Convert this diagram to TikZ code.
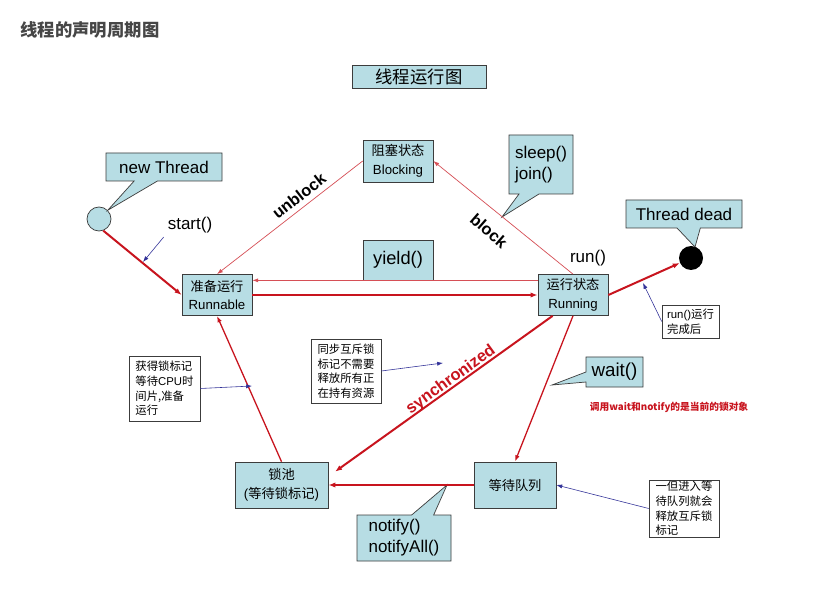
\documentclass[tikz,border=0pt]{standalone}
\usepackage{fontspec}
\setmainfont{Liberation Sans}
\newfontfamily\cjk{Noto Sans CJK SC}
\definecolor{stateblue}{RGB}{183,221,228}
\definecolor{statered}{RGB}{200,20,30}
\definecolor{notenavy}{RGB}{51,51,153}
\definecolor{edgegray}{RGB}{60,60,60}
\definecolor{titlegray}{RGB}{70,70,70}
\usetikzlibrary{arrows.meta,shapes.callouts}

\begin{document}
\begin{tikzpicture}[x=0.3mm, y=-0.3mm,
  statebox/.style={draw=edgegray, fill=stateblue, line width=0.6pt, align=center, inner sep=0pt, font=\fontsize{11.3}{16}\selectfont},
  tipbox/.style={rectangle callout, draw=edgegray, fill=stateblue, line width=0.6pt, align=left, inner sep=0pt, font=\fontsize{14.5}{18}\selectfont},
  notebox/.style={draw=edgegray, fill=white, line width=0.5pt, align=left, inner sep=0pt, font=\cjk\fontsize{9.7}{12.5}\selectfont},
  flow/.style={-{Latex[length=6pt,width=4.5pt]}, statered, line width=1.7pt},
  flowmid/.style={-{Latex[length=5.5pt,width=4pt]}, statered, line width=1.1pt},
  flowthin/.style={-{Latex[length=5pt,width=3.5pt]}, statered!75, line width=0.6pt},
  hint/.style={-{Latex[length=5pt,width=3.5pt]}, notenavy, line width=0.5pt},
  tag/.style={font=\bfseries\fontsize{14}{16}\selectfont}]
\path[use as bounding box, fill=white] (0,0) rectangle (820,600);
% Titles
\node[font=\cjk\bfseries\fontsize{14.8}{17}\selectfont, text=titlegray] (title) at (90,30) {线程的声明周期图};
\node[statebox, minimum width=40.2mm, minimum height=6.9mm, font=\cjk\fontsize{14.8}{17}\selectfont] (chart) at (419,76.5) {线程运行图};
% States
\node[statebox, minimum width=21mm, minimum height=12.6mm] (blocking) at (398,161) {{\cjk 阻塞状态}\\Blocking};
\node[statebox, minimum width=21mm, minimum height=12.3mm] (runnable) at (217,295) {{\cjk 准备运行}\\Runnable};
\node[statebox, minimum width=21mm, minimum height=12.3mm] (running) at (573,295) {{\cjk 运行状态}\\Running};
\node[statebox, minimum width=21mm, minimum height=12mm, font=\fontsize{15.6}{18}\selectfont] (yield) at (398,260) {yield()};
\node[statebox, minimum width=27.9mm, minimum height=13.8mm] (lockpool) at (281.5,485) {{\cjk 锁池}\\({\cjk 等待锁标记})};
\node[statebox, minimum width=24.6mm, minimum height=13.8mm] (waitqueue) at (515,485) {{\cjk 等待队列}};
\node[circle, draw=edgegray, fill=stateblue, line width=0.6pt, minimum size=7.2mm, inner sep=0pt] (born) at (99,219) {};
\node[circle, fill=black, minimum size=7.2mm, inner sep=0pt] (dead) at (691,258) {};
% Callouts
\coordinate (sleeptip) at (502,217);
\coordinate (waittip) at (552,385);
\coordinate (notifytip) at (447,485);
\coordinate (deadtip) at (695,247);
\node[tipbox, minimum width=34.8mm, minimum height=8.4mm, callout absolute pointer={(born.north east)}, callout pointer width=7mm] (newthread) at (164,167) {new Thread};
\node[tipbox, minimum width=19.2mm, minimum height=17.7mm, callout absolute pointer={(sleeptip)}, callout pointer width=6mm] (sleepjoin) at (541,164.5) {sleep()\\join()};
\node[tipbox, minimum width=34.8mm, minimum height=8.4mm, callout absolute pointer={(deadtip)}, callout pointer width=7mm] (deadcall) at (684,214) {Thread dead};
\node[tipbox, minimum width=17.1mm, minimum height=9mm, font=\fontsize{16}{18}\selectfont, callout absolute pointer={(waittip)}, callout pointer width=3mm] (waitcall) at (614.5,372) {wait()};
\node[tipbox, minimum width=28.2mm, minimum height=13.8mm, callout absolute pointer={(notifytip)}, callout pointer width=6.6mm] (notifycall) at (404,538) {notify()\\notifyAll()};
% Notes
\node[notebox, minimum width=17.1mm, minimum height=9.9mm] (runnote) at (690.5,321.5) {{\rmfamily run()}运行\\完成后};
\node[notebox, minimum width=21.3mm, minimum height=19.5mm] (locknote) at (164.5,388.5) {获得锁标记\\等待{\rmfamily CPU}时\\间片,准备\\运行};
\node[notebox, minimum width=21mm, minimum height=19.2mm] (syncnote) at (346,371) {同步互斥锁\\标记不需要\\释放所有正\\在持有资源};
\node[notebox, minimum width=21mm, minimum height=17.1mm] (queuenote) at (684,508.5) {一但进入等\\待队列就会\\释放互斥锁\\标记};
\node[font=\cjk\bfseries\fontsize{8.3}{10}\selectfont, text=statered] (lockobj) at (669,407) {调用wait和notify的是当前的锁对象};
% Labels
\node[font=\fontsize{14.5}{17}\selectfont] (starttext) at (190,225) {start()};
\node[font=\fontsize{14.5}{17}\selectfont] (runtext) at (588,258) {run()};
\node[tag, rotate=38] (unblocktext) at (299,196) {unblock};
\node[tag, rotate=-41] (blocktext) at (489,231) {block};
\node[tag, text=statered, rotate=36] (synctext) at (451,380) {synchronized};
% Transitions
\draw[flow] (born.-70) -- (runnable.west);
\draw[flowthin] (blocking.west) -- (runnable.north);
\draw[flowthin] (running.north) -- (blocking.east);
\draw[flowthin] (running.west |- yield.south) -- (runnable.east |- yield.south);
\draw[flow] (runnable.east) -- (running.west);
\draw[flow] (running.east) -- (dead);
\draw[flow] ([xshift=4.5mm]running.south west) -- ([xshift=2mm,yshift=4mm]lockpool.east);
\draw[flowmid] (running.south) -- (waitqueue.north);
\draw[flow] (waitqueue.west) -- (lockpool.east);
\draw[flowmid] (lockpool.north) -- (runnable.south);
% Hints
\coordinate (starttip) at (143,262);
\coordinate (runtip) at (643,283);
\coordinate (locktip) at (252,386);
\coordinate (synctip) at (443,363);
\draw[hint] (starttext.south west) -- (starttip);
\draw[hint] (runnote.west) -- (runtip);
\draw[hint] (locknote.east) -- (locktip);
\draw[hint] (syncnote.east) -- (synctip);
\draw[hint] (queuenote.west) -- (waitqueue.east);
\end{tikzpicture}
\end{document}
